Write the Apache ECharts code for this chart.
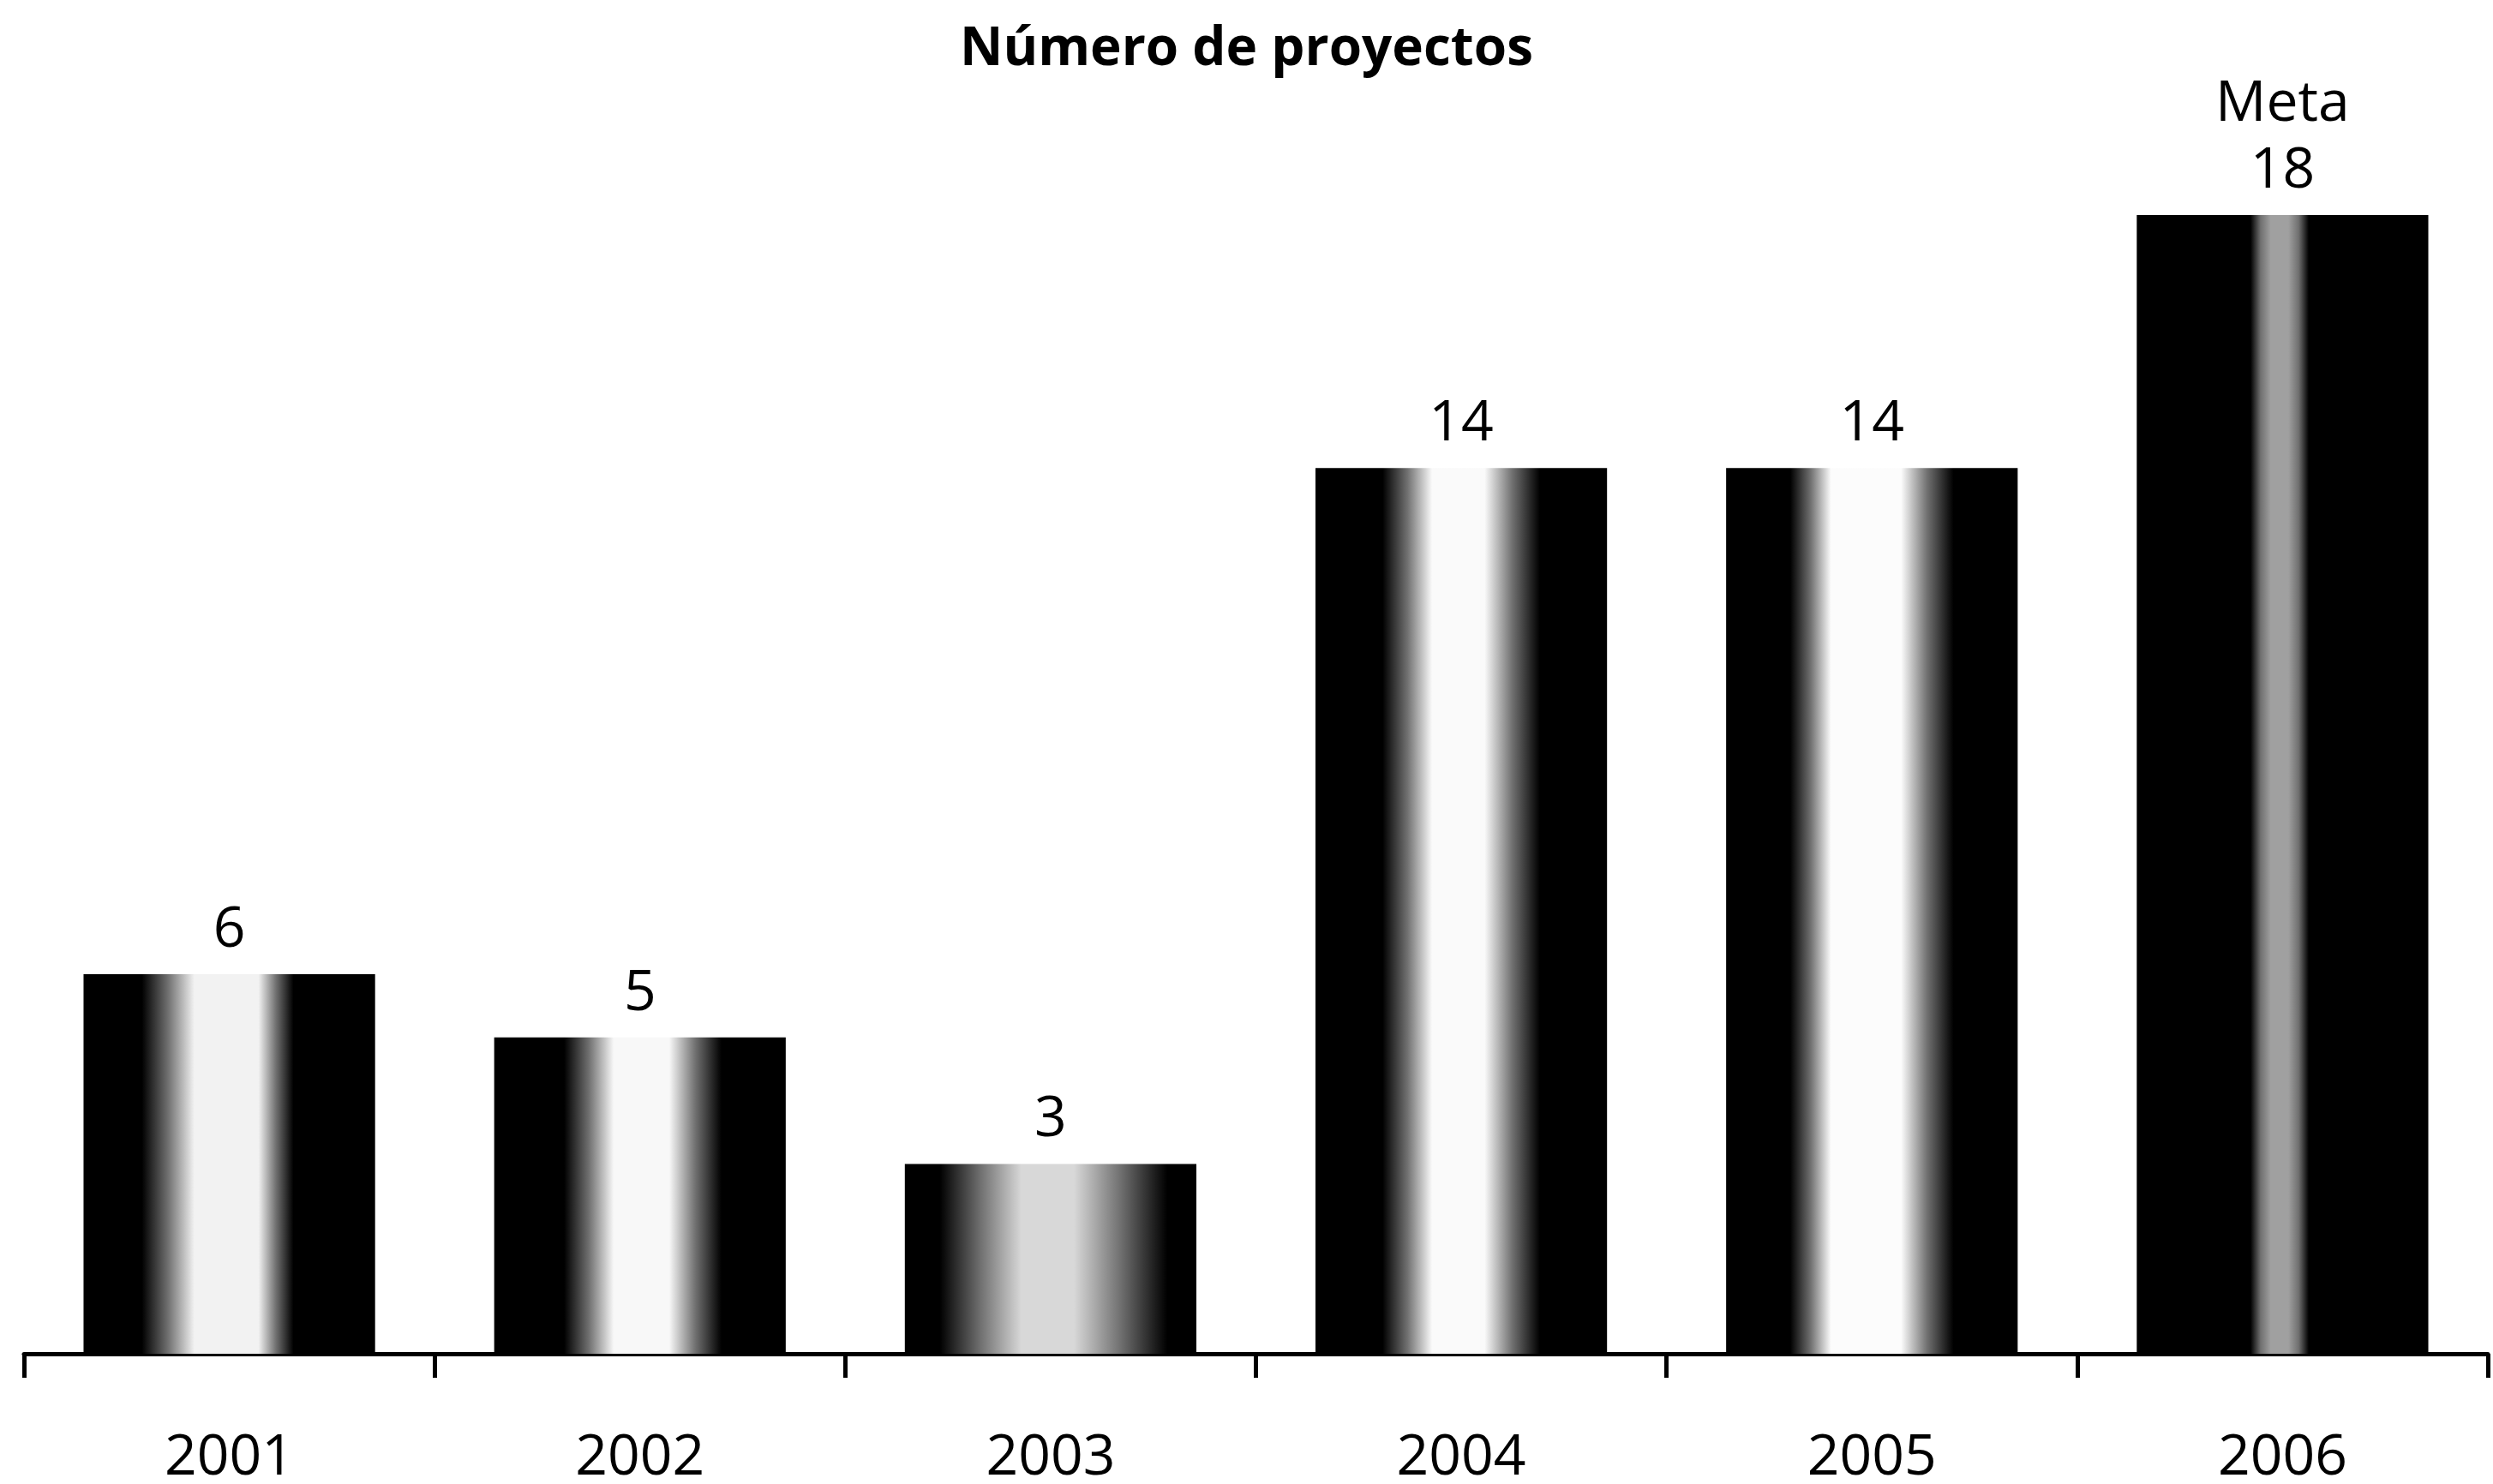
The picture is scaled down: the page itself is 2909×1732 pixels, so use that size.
<!DOCTYPE html>
<html>
<head>
<meta charset="utf-8">
<script src="https://cdn.jsdelivr.net/npm/echarts@6/dist/echarts.min.js"></script>
<style>
html,body{margin:0;padding:0;background:#fff;}
#chart{width:2909px;height:1732px;}
</style>
</head>
<body>
<div id="chart"></div>
<script>
// ---- data ----
const titleText = 'Número de proyectos';
const categories = ['2001', '2002', '2003', '2004', '2005', '2006'];
const values = [6, 5, 3, 14, 14, 18];
const valueLabels = ['6', '5', '3', '14', '14', 'Meta\n18'];

// ---- styling (shading of each bar: [blackEnd, lightStart, lightEnd, blackStart, core colour]) ----
const shading = [
  [0.20, 0.38, 0.60, 0.72, '#f2f2f2'],
  [0.24, 0.41, 0.60, 0.78, '#f8f8f8'],
  [0.12, 0.40, 0.58, 0.90, '#d8d8d8'],
  [0.23, 0.40, 0.58, 0.77, '#fafafa'],
  [0.22, 0.36, 0.60, 0.78, '#fcfcfc'],
  [0.39, 0.46, 0.52, 0.59, '#a0a0a0']
];

function barFill(s) {
  return {
    type: 'linear', x: 0, y: 0, x2: 1, y2: 0,
    colorStops: [
      { offset: 0, color: '#000' },
      { offset: s[0], color: '#000' },
      { offset: (s[0] + s[1]) / 2, color: '#707070' },
      { offset: s[1], color: s[4] },
      { offset: s[2], color: s[4] },
      { offset: (s[2] + s[3]) / 2, color: '#707070' },
      { offset: s[3], color: '#000' },
      { offset: 1, color: '#000' }
    ]
  };
}

const FONT = "'Open Sans', 'Noto Sans', sans-serif";

const barData = values.map((v, i) => ({
  value: v,
  itemStyle: { color: barFill(shading[i]) },
  label: { formatter: valueLabels[i] }
}));

const chart = echarts.init(document.getElementById('chart'), null, { renderer: 'canvas' });
chart.setOption({
  backgroundColor: '#ffffff',
  animation: false,
  title: {
    text: titleText,
    left: 'center',
    top: 22,
    textStyle: { fontFamily: FONT, fontWeight: 'bold', fontSize: 62, color: '#000' }
  },
  grid: {
    left: 28, right: 6, top: 251, bottom: 152,
    containLabel: false,
    outerBoundsMode: 'none'
  },
  xAxis: {
    type: 'category',
    data: categories,
    boundaryGap: true,
    axisLine: { show: true, lineStyle: { color: '#000', width: 5 } },
    axisTick: { show: true, length: 28, lineStyle: { color: '#000', width: 5 } },
    axisLabel: { fontFamily: FONT, fontSize: 66, color: '#000', margin: 89 },
    splitLine: { show: false }
  },
  yAxis: {
    type: 'value',
    min: 0, max: 18,
    show: false,
    splitLine: { show: false }
  },
  series: [{
    type: 'bar',
    data: barData,
    barWidth: '71%',
    z: 1,
    label: {
      show: true,
      position: 'top',
      distance: 12,
      fontFamily: FONT,
      fontSize: 66,
      lineHeight: 78,
      color: '#000',
      align: 'center'
    }
  }]
});
</script>
</body>
</html>
